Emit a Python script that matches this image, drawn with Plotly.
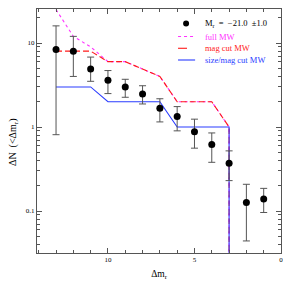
import plotly.graph_objects as go

# ---- data ----
dm = [13, 12, 11, 10, 9, 8, 7, 6, 5, 4, 3, 2, 1]
dn = [8.4, 8.0, 4.9, 3.6, 3.0, 2.47, 1.67, 1.33, 0.88, 0.62, 0.37, 0.126, 0.139]
dn_hi = [16.0, 12.0, 6.8, 4.7, 3.7, 3.1, 2.17, 1.75, 1.24, 0.85, 0.52, 0.208, 0.186]
dn_lo = [0.81, 4.0, 3.5, 2.5, 2.26, 1.88, 1.15, 0.9, 0.56, 0.38, 0.23, 0.044, 0.096]

# model curves; last point is the drop to zero (floor value for log axis)
mod_x = [13, 12, 11, 10, 9, 8, 7, 6, 5, 4, 3, 3]
full_mw = [25, 12, 9, 6, 6, 4.9, 4, 2, 2, 2, 1, 1e-3]
mag_cut = [8, 8, 8, 6, 6, 4.9, 4, 2, 2, 2, 1, 1e-3]
size_mag_cut = [3, 3, 3, 2, 2, 2, 2, 1, 1, 1, 1, 1e-3]

legend_labels = ["M<sub>r</sub>  =  \u221221.0  \u00b11.0", "full MW", "mag cut MW", "size/mag cut MW"]

x_major = [0, 5, 10]
y_major = [0.1, 1, 10]
y_major_text = ["0.1", "1", "10"]

# ---- style ----
FONT = "Liberation Serif"
C_MAG = "#ff33ff"
C_RED = "#ff1a1a"
C_BLUE = "#2a3cff"
FRAME = "#555555"

fig = go.Figure()
fig.add_trace(go.Scatter(x=mod_x, y=full_mw, mode="lines",
                         line=dict(color=C_MAG, width=1.1, dash="dot"), showlegend=False))
fig.add_trace(go.Scatter(x=mod_x, y=mag_cut, mode="lines",
                         line=dict(color=C_RED, width=1.1, dash="6px,3px"), showlegend=False))
fig.add_trace(go.Scatter(x=mod_x, y=size_mag_cut, mode="lines",
                         line=dict(color=C_BLUE, width=1.1), showlegend=False))
fig.add_trace(go.Scatter(
    x=dm, y=dn, mode="markers",
    marker=dict(color="black", size=7),
    error_y=dict(type="data", symmetric=False,
                 array=[h - v for h, v in zip(dn_hi, dn)],
                 arrayminus=[v - l for v, l in zip(dn, dn_lo)],
                 color="#555555", thickness=1, width=3.5),
    showlegend=False, cliponaxis=True))

# manual legend
x0, x1, xt = 0.578, 0.648, 0.68
rows = [0.941, 0.887, 0.839, 0.791]
colors = ["black", C_MAG, C_RED, C_BLUE]
dashes = [None, "dot", "dash", "solid"]
shapes = []
annotations = []
shapes.append(dict(type="circle", xref="paper", yref="paper", xsizemode="pixel", ysizemode="pixel",
                   xanchor=0.611, yanchor=rows[0], x0=-3, x1=3, y0=-3, y1=3,
                   fillcolor="black", line=dict(width=0)))
for i in range(1, 4):
    shapes.append(dict(type="line", xref="paper", yref="paper", x0=x0, x1=x1, y0=rows[i], y1=rows[i],
                       line=dict(color=colors[i], width=1.1, dash=dashes[i])))
for i in range(4):
    annotations.append(dict(xref="paper", yref="paper", x=xt, y=rows[i], xanchor="left", yanchor="middle",
                            text=legend_labels[i], showarrow=False,
                            font=dict(family=FONT, size=8.5, color=colors[i])))

# y-axis title as rotated annotation
annotations.append(dict(xref="paper", yref="paper", x=-0.094, y=0.455, xanchor="center", yanchor="middle",
                        text="\u0394N  (<\u0394m<sub>r</sub>)", textangle=-90, showarrow=False, borderpad=0,
                        font=dict(family=FONT, size=10, color="black")))

fig.update_layout(
    width=291, height=291,
    margin=dict(l=29, r=18, t=1, b=46),
    paper_bgcolor="white", plot_bgcolor="white",
    font=dict(family=FONT, size=7, color="black"),
    shapes=shapes, annotations=annotations,
    xaxis=dict(range=[14.1, 0], tickvals=x_major, ticks="inside", ticklen=5, tickcolor=FRAME,
               showline=True, linecolor=FRAME, linewidth=1, mirror="ticks", showgrid=False, zeroline=False,
               minor=dict(dtick=1, ticks="inside", ticklen=3, tickcolor=FRAME),
               title=dict(text="\u0394m<sub>r</sub>", font=dict(size=9.5), standoff=6),
               tickfont=dict(size=7), automargin=False),
    yaxis=dict(type="log", range=[-1.5, 1.405], tickvals=y_major, ticktext=y_major_text,
               ticks="inside", ticklen=5, tickcolor=FRAME,
               showline=True, linecolor=FRAME, linewidth=1, mirror="ticks", showgrid=False, zeroline=False,
               minor=dict(tickvals=[0.04, 0.05, 0.06, 0.07, 0.08, 0.09, 0.2, 0.3, 0.4, 0.5, 0.6, 0.7, 0.8, 0.9,
                                    2, 3, 4, 5, 6, 7, 8, 9, 20],
                          ticks="inside", ticklen=3, tickcolor=FRAME),
               tickfont=dict(size=7), automargin=False),
)

fig.write_html("out.html")
